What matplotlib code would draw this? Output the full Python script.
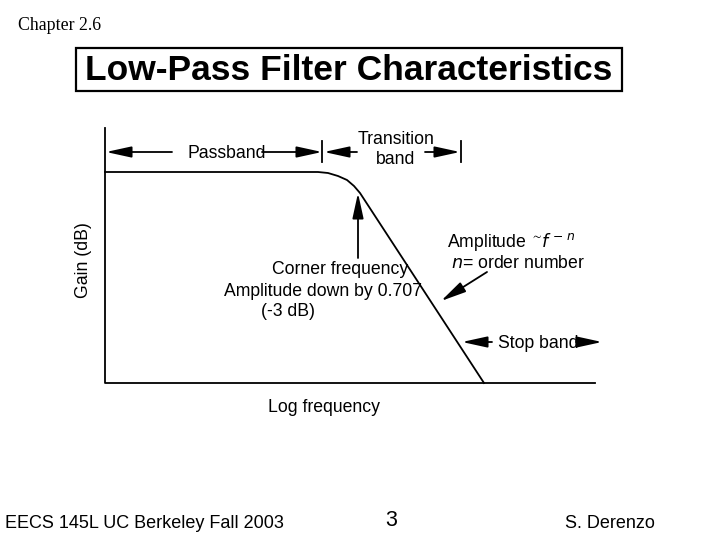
import matplotlib
matplotlib.use("Agg")
import matplotlib.pyplot as plt
from matplotlib.patches import Rectangle

# Response curve (diagram units: x = log frequency px, y = gain px, downward)
curve_x = [105, 318, 328, 338, 347, 354, 360, 484]
curve_y = [172, 172, 173, 176, 180, 186, 193, 383]

axis_x = [105, 105, 595]
axis_y = [128, 383, 383]

title = "Low-Pass Filter Characteristics"
chapter = "Chapter 2.6"
footer_left = "EECS 145L UC Berkeley Fall 2003"
footer_mid = "3"
footer_right = "S. Derenzo"

fig = plt.figure(figsize=(7.2, 5.4), dpi=100)
ax = fig.add_axes([0, 0, 1, 1])
ax.set_xlim(0, 720)
ax.set_ylim(540, 0)
ax.axis("off")

sans = "Liberation Sans"
lw = 1.3
fs = 12.7
d = 2  # text baseline nudge

ax.plot(axis_x, axis_y, color="black", lw=lw)
ax.plot(curve_x, curve_y, color="black", lw=lw)

def arrow(x0, y0, x1, y1):
    ax.annotate("", xy=(x1, y1), xytext=(x0, y0),
                arrowprops=dict(arrowstyle="-|>,head_length=1.1,head_width=0.24",
                                mutation_scale=14, color="black", lw=lw,
                                shrinkA=0, shrinkB=0))

def label(x, y, s, **kw):
    ax.text(x, y + d, s, family=sans, fontsize=kw.pop("fontsize", fs), va="center", **kw)

# Passband
arrow(172, 152, 106, 152)
arrow(262, 152, 322, 152)
ax.plot([322, 322], [141, 162], color="black", lw=lw)
label(227, 152, "Passband", ha="center")
# Transition band
arrow(357, 152, 324, 152)
arrow(425, 152, 460, 152)
ax.plot([461, 461], [141, 162], color="black", lw=lw)
label(396, 138, "Transition", ha="center")
label(396, 157, "band", ha="center")

# Corner arrow
arrow(358, 258, 358, 193)
label(340, 268, "Corner frequency", ha="center")
label(323, 289, "Amplitude down by 0.707", ha="center")
label(288, 309, "(-3 dB)", ha="center")

# Amplitude slope arrow
arrow(487, 272, 441, 301)
label(447, 240, r"Amplitude $\mathregular{^{\sim}}\!\it{f}$$^{\,-\,\it{n}}$", ha="left")
label(451, 261, r"$\it{n}$= order number", ha="left")

# Stop band
arrow(492, 342, 462, 342)
arrow(576, 342, 602, 342)
label(498, 342, "Stop band", ha="left")

# Axis labels
ax.text(83, 260, "Gain (dB)", family=sans, fontsize=fs, ha="center", va="center", rotation=90)
label(324, 405, "Log frequency", ha="center")

# Title
ax.add_patch(Rectangle((76, 48), 546, 43, fill=False, edgecolor="black", lw=1.6))
ax.text(349, 71, title, family=sans, fontsize=25.5, fontweight="bold", ha="center", va="center")
ax.text(18, 26, chapter, family="Liberation Serif", fontsize=12.8, ha="left", va="center")

# Footer
ax.text(5, 524, footer_left, family=sans, fontsize=13, ha="left", va="center")
ax.text(391, 521, footer_mid, family=sans, fontsize=15.5, ha="center", va="center")
ax.text(565, 524, footer_right, family=sans, fontsize=13, ha="left", va="center")

fig.savefig("out.png", dpi=100)
